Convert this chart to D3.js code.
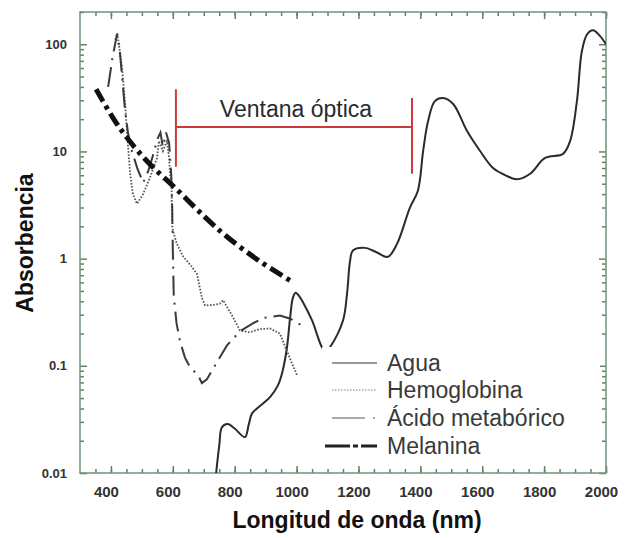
<!DOCTYPE html>
<html>
<head>
<meta charset="utf-8">
<script src="https://cdn.jsdelivr.net/npm/d3@7"></script>
<style>
  body { margin: 0; background: #fff; }
  text { font-family: Arial, "Liberation Sans", sans-serif; }
</style>
</head>
<body>
<div id="chart"></div>
<script>
// Absorbance spectra, optical window

// Data (nm, absorbance)
var agua = [
  [740, 0.01], [750, 0.018], [759, 0.0268], [778, 0.0286], [800, 0.026], [833, 0.0216],
  [845, 0.028], [856, 0.036], [872, 0.040], [914, 0.051], [940, 0.066], [955, 0.09],
  [969, 0.149], [979, 0.28], [988, 0.43], [997, 0.48], [1010, 0.44], [1021, 0.39],
  [1050, 0.265], [1082, 0.149], [1095, 0.135], [1108, 0.149], [1150, 0.265], [1163, 0.47],
  [1173, 0.96], [1182, 1.19], [1221, 1.26], [1260, 1.14], [1295, 1.04], [1325, 1.38],
  [1366, 2.98], [1392, 4.3], [1409, 10.1], [1425, 19.2], [1447, 29.5], [1473, 31.5],
  [1506, 27.7], [1551, 15.5], [1593, 10.1], [1635, 7.0], [1680, 5.9], [1712, 5.5],
  [1755, 6.2], [1803, 8.7], [1861, 9.5], [1884, 12.5], [1906, 29.5], [1922, 86],
  [1939, 124], [1958, 135], [1981, 119], [2000, 100]
];

var hemoglobina = [
  [414, 110], [420, 126], [428, 90], [436, 60], [445, 30], [452, 15], [462, 6.2],
  [471, 4.0], [484, 3.25], [504, 4.0], [526, 5.7], [549, 8.7], [555, 12.5], [568, 10.1],
  [581, 12.5], [588, 8.7], [591, 6.2], [596, 4.5], [598, 2.0], [601, 1.8], [612, 1.4],
  [633, 1.05], [660, 0.85], [678, 0.72], [694, 0.43], [704, 0.366], [730, 0.37],
  [752, 0.38], [762, 0.41], [790, 0.3], [817, 0.214], [849, 0.205], [880, 0.22],
  [914, 0.223], [946, 0.2], [972, 0.13], [1001, 0.082]
];

var acido = [
  [391, 40], [405, 75], [420, 125], [428, 90], [436, 50], [445, 25], [455, 15],
  [468, 10], [485, 7], [504, 5.1], [520, 6.5], [535, 9], [550, 13], [560, 15],
  [568, 11], [578, 15], [588, 12], [595, 6], [598, 3], [600, 1.2], [603, 0.45],
  [612, 0.25], [623, 0.17], [639, 0.12], [649, 0.105], [660, 0.095], [670, 0.088],
  [685, 0.078], [694, 0.069], [710, 0.075], [736, 0.1], [775, 0.155], [817, 0.21],
  [860, 0.25], [892, 0.28], [946, 0.295], [980, 0.275], [1017, 0.238]
];

var melanina = [
  [352, 38], [407, 20.5], [452, 13.4], [526, 7.6], [610, 4.5], [700, 2.5],
  [775, 1.6], [880, 0.95], [989, 0.6]
];

// optical window marker
var ventanaNm = [610, 1373];
var ventanaAbs = 16.9;
var ventanaTop = [38, 31.5];
var ventanaBottom = [7.2, 6.2];

// ticks
var xTickValues = [400, 600, 800, 1000, 1200, 1400, 1600, 1800, 2000];
var xMinorTicks = d3.range(350, 2001, 50);
var yTickValues = [0.01, 0.1, 1, 10, 100];
var yTickLabels = ["0.01", "0.1", "1", "10", "100"];
var yMinorTicks = [];
[0.01, 0.1, 1, 10, 100].forEach(function(dec) {
  for (var k = 2; k <= 9; k++) {
    if (dec * k <= 200) yMinorTicks.push(dec * k);
  }
});

var legendNames = ["Agua", "Hemoglobina", "Ácido metabórico", "Melanina"];

// SVG area
var svgWidth = 632;
var svgHeight = 538;
var margin = { top: 12, right: 26, bottom: 65, left: 80 };
var width = svgWidth - margin.left - margin.right;
var height = svgHeight - margin.top - margin.bottom;

var frameColor = "#6f9479";
var tickColor = "#5d8468";

var svg = d3.select("#chart")
  .append("svg")
  .attr("width", svgWidth)
  .attr("height", svgHeight);

var chartGroup = svg.append("g")
  .attr("transform", `translate(${margin.left},${margin.top})`);

var xScale = d3.scaleLinear().domain([300, 2000]).range([0, width]);
var yScale = d3.scaleLog().domain([0.01, 200]).range([height, 0]);

// axes (ticks inside the frame)
function styleAxis(g) {
  g.select(".domain").remove();
  g.selectAll(".tick line").attr("stroke", tickColor).attr("stroke-width", 1.5);
}

chartGroup.append("g")
  .attr("transform", `translate(0,${height})`)
  .call(d3.axisBottom(xScale).tickValues(xMinorTicks).tickSizeInner(-4).tickSizeOuter(0).tickFormat(""))
  .call(styleAxis);

var xAxis = chartGroup.append("g")
  .attr("transform", `translate(0,${height})`)
  .call(d3.axisBottom(xScale).tickValues(xTickValues).tickSizeInner(-7).tickSizeOuter(0)
    .tickPadding(13).tickFormat(d3.format("d")))
  .call(styleAxis);

xAxis.selectAll("text")
  .attr("x", -5)
  .attr("fill", "#333")
  .style("font-size", "15px")
  .style("font-weight", "bold");

chartGroup.append("g")
  .call(d3.axisTop(xScale).tickValues(xMinorTicks).tickSizeInner(-4).tickSizeOuter(0).tickFormat(""))
  .call(styleAxis);

chartGroup.append("g")
  .call(d3.axisTop(xScale).tickValues(xTickValues).tickSizeInner(-7).tickSizeOuter(0).tickFormat(""))
  .call(styleAxis);

chartGroup.append("g")
  .call(d3.axisLeft(yScale).tickValues(yMinorTicks).tickSizeInner(-4).tickSizeOuter(0).tickFormat(""))
  .call(styleAxis);

var yAxis = chartGroup.append("g")
  .call(d3.axisLeft(yScale).tickValues(yTickValues).tickFormat((d, i) => yTickLabels[i])
    .tickSizeInner(-7).tickSizeOuter(0).tickPadding(13))
  .call(styleAxis);

yAxis.selectAll("text")
  .attr("fill", "#333")
  .style("font-size", "13px")
  .style("font-weight", "bold");

chartGroup.append("g")
  .attr("transform", `translate(${width},0)`)
  .call(d3.axisRight(yScale).tickValues(yMinorTicks).tickSizeInner(-4).tickSizeOuter(0).tickFormat(""))
  .call(styleAxis);

chartGroup.append("g")
  .attr("transform", `translate(${width},0)`)
  .call(d3.axisRight(yScale).tickValues(yTickValues).tickSizeInner(-7).tickSizeOuter(0).tickFormat(""))
  .call(styleAxis);

// frame
chartGroup.append("rect")
  .attr("x", 0)
  .attr("y", 0)
  .attr("width", width)
  .attr("height", height)
  .attr("fill", "none")
  .attr("stroke", frameColor)
  .attr("stroke-width", 1.5);

// curves
chartGroup.append("clipPath").attr("id", "plotclip")
  .append("rect").attr("width", width).attr("height", height);

var curves = chartGroup.append("g").attr("clip-path", "url(#plotclip)");

var smoothLine = d3.line()
  .x(d => xScale(d[0]))
  .y(d => yScale(d[1]))
  .curve(d3.curveCatmullRom.alpha(0.5));

var sharpLine = d3.line()
  .x(d => xScale(d[0]))
  .y(d => yScale(d[1]));

curves.append("path")
  .attr("d", smoothLine(agua))
  .attr("fill", "none")
  .attr("stroke", "#2b2b2b")
  .attr("stroke-width", 2);

curves.append("path")
  .attr("d", sharpLine(hemoglobina))
  .attr("fill", "none")
  .attr("stroke", "#555")
  .attr("stroke-width", 1.8)
  .attr("stroke-dasharray", "1.6,1.6");

curves.append("path")
  .attr("d", sharpLine(acido))
  .attr("fill", "none")
  .attr("stroke", "#3a3a3a")
  .attr("stroke-width", 2)
  .attr("stroke-dasharray", "20,7,2,7");

curves.append("path")
  .attr("d", smoothLine(melanina))
  .attr("fill", "none")
  .attr("stroke", "#111")
  .attr("stroke-width", 5)
  .attr("stroke-dasharray", "14,5,4,5");

// optical window
var red = "#cc3b3b";
chartGroup.append("line")
  .attr("x1", xScale(ventanaNm[0]))
  .attr("x2", xScale(ventanaNm[1]))
  .attr("y1", yScale(ventanaAbs))
  .attr("y2", yScale(ventanaAbs))
  .attr("stroke", red)
  .attr("stroke-width", 2);

ventanaNm.forEach(function(nm, i) {
  chartGroup.append("line")
    .attr("x1", xScale(nm))
    .attr("x2", xScale(nm))
    .attr("y1", yScale(ventanaTop[i]))
    .attr("y2", yScale(ventanaBottom[i]))
    .attr("stroke", red)
    .attr("stroke-width", 2);
});

chartGroup.append("text")
  .attr("x", (xScale(ventanaNm[0]) + xScale(ventanaNm[1])) / 2 + 2)
  .attr("y", 105)
  .attr("text-anchor", "middle")
  .attr("fill", "#2a2a2a")
  .style("font-size", "23px")
  .text("Ventana óptica");

// legend
var legend = chartGroup.append("g")
  .attr("transform", `translate(242, 335)`);

legend.append("rect")
  .attr("x", 0)
  .attr("y", 0)
  .attr("width", 278)
  .attr("height", 116)
  .attr("fill", "#fff");

var legendY = [16, 43, 71, 99];
var legendStyles = [
  { dash: null, w: 2, c: "#999" },
  { dash: "1.5,1.5", w: 1.6, c: "#aaa" },
  { dash: "33,8,2,8", w: 2, c: "#aaa" },
  { dash: "25,3,5,3", w: 3, c: "#222" }
];

legendNames.forEach(function(name, i) {
  var s = legendStyles[i];
  legend.append("line")
    .attr("x1", i === 3 ? 3 : 10)
    .attr("x2", 55)
    .attr("y1", legendY[i])
    .attr("y2", legendY[i])
    .attr("stroke", s.c)
    .attr("stroke-width", s.w)
    .attr("stroke-dasharray", s.dash);

  legend.append("text")
    .attr("x", 65)
    .attr("y", legendY[i] + 8)
    .attr("fill", "#3a3a3a")
    .style("font-size", "23px")
    .text(name);
});

// axis titles
svg.append("text")
  .attr("x", 357)
  .attr("y", 528)
  .attr("text-anchor", "middle")
  .attr("fill", "#111")
  .style("font-size", "23px")
  .style("font-weight", "bold")
  .text("Longitud de onda (nm)");

svg.append("text")
  .attr("transform", "rotate(-90)")
  .attr("x", -243)
  .attr("y", 33)
  .attr("text-anchor", "middle")
  .attr("fill", "#111")
  .style("font-size", "23px")
  .style("font-weight", "bold")
  .text("Absorbencia");
</script>
</body>
</html>
